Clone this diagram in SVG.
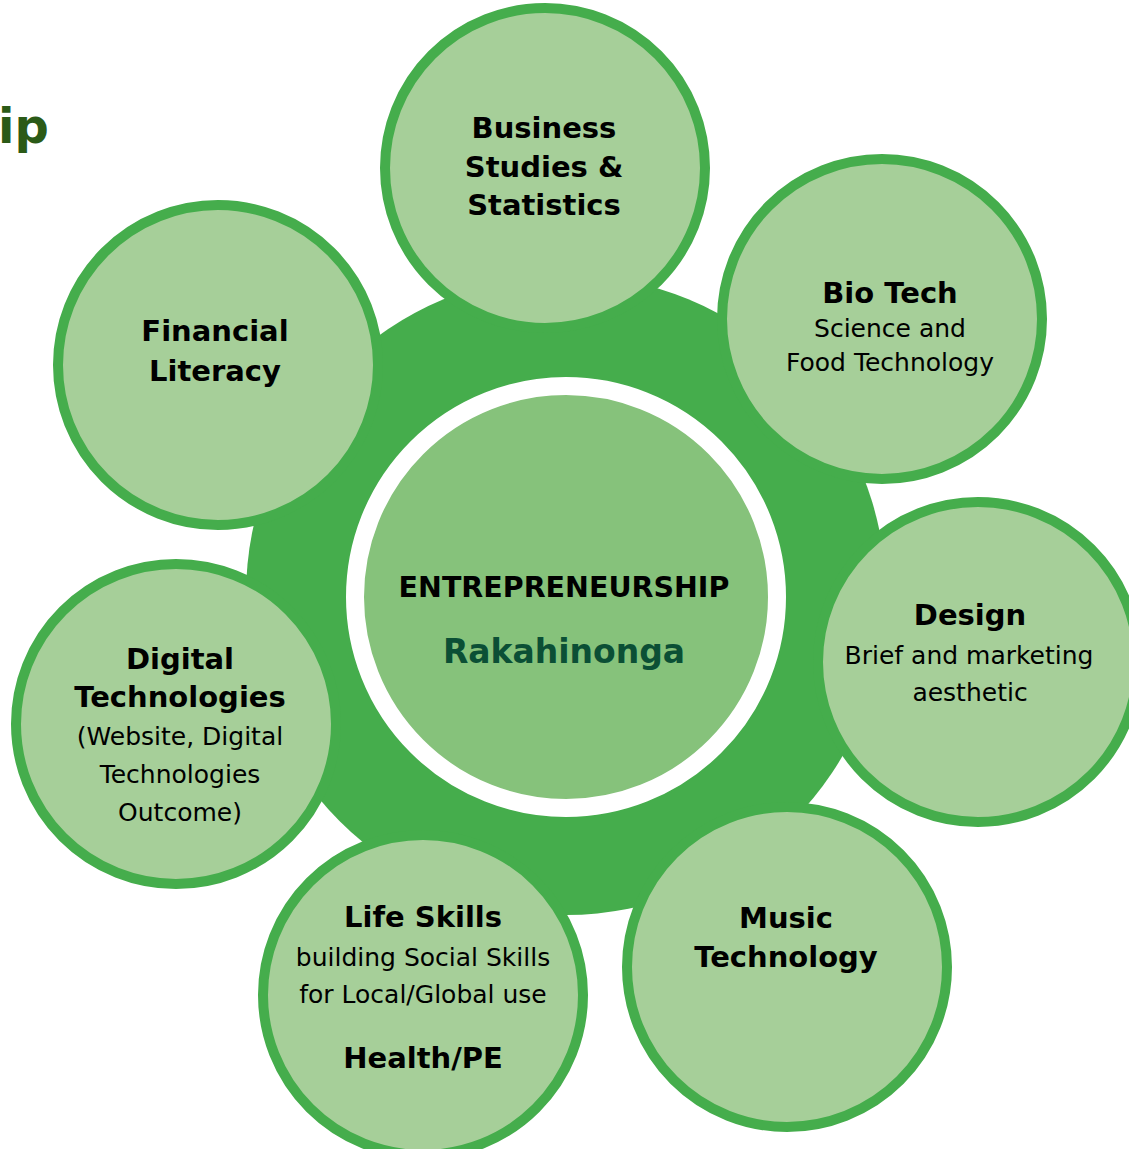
<svg xmlns="http://www.w3.org/2000/svg" width="1129" height="1149" viewBox="0 0 1129 1149">
<style>
.ring{fill:#45ad4c}
.hub{fill:#86c27b;stroke:#ffffff;stroke-width:18}
.sat{fill:#a6cf99;stroke:#45ad4c;stroke-width:10}
text{font-family:"DejaVu Sans","Verdana",sans-serif;text-anchor:middle;fill:#000}
.b{font-weight:bold;font-size:29px}
.r{font-size:25px}
.title{font-weight:bold;font-size:48px;fill:#2b5a17;text-anchor:start}
.cen{font-weight:bold;font-size:28.5px}
.rak{font-weight:bold;font-size:33px;fill:#0b4f35}
</style>
<rect width="1129" height="1149" fill="#ffffff"/>
<text class="title" x="-2" y="143">ip</text>
<g id="connectors">
<circle class="ring" cx="566" cy="595" r="320"/>
</g>
<g id="center">
<circle class="hub" cx="566" cy="597" r="211"/>
<text class="cen" x="564" y="597">ENTREPRENEURSHIP</text>
<text class="rak" x="564" y="663">Rakahinonga</text>
</g>
<g id="business">
<circle class="sat" cx="545" cy="168" r="160"/>
<text class="b" x="544" y="138">Business</text>
<text class="b" x="544" y="177">Studies &amp;</text>
<text class="b" x="544" y="215">Statistics</text>
</g>
<g id="biotech">
<circle class="sat" cx="882" cy="319" r="160"/>
<text class="b" x="890" y="303">Bio Tech</text>
<text class="r" x="890" y="337">Science and</text>
<text class="r" x="890" y="371">Food Technology</text>
</g>
<g id="design">
<circle class="sat" cx="978" cy="662" r="160"/>
<text class="b" x="970" y="625">Design</text>
<text class="r" x="969" y="664">Brief and marketing</text>
<text class="r" x="970" y="701">aesthetic</text>
</g>
<g id="music">
<circle class="sat" cx="787" cy="967" r="160"/>
<text class="b" x="786" y="928">Music</text>
<text class="b" x="786" y="967">Technology</text>
</g>
<g id="lifeskills">
<circle class="sat" cx="423" cy="995" r="160"/>
<text class="b" x="423" y="927">Life Skills</text>
<text class="r" x="423" y="966">building Social Skills</text>
<text class="r" x="423" y="1003">for Local/Global use</text>
<text class="b" x="423" y="1068">Health/PE</text>
</g>
<g id="digital">
<circle class="sat" cx="176" cy="724" r="160"/>
<text class="b" x="180" y="669">Digital</text>
<text class="b" x="180" y="707">Technologies</text>
<text class="r" x="180" y="745">(Website, Digital</text>
<text class="r" x="180" y="783">Technologies</text>
<text class="r" x="180" y="821">Outcome)</text>
</g>
<g id="financial">
<circle class="sat" cx="218" cy="365" r="160"/>
<text class="b" x="215" y="341">Financial</text>
<text class="b" x="215" y="381">Literacy</text>
</g>
</svg>
